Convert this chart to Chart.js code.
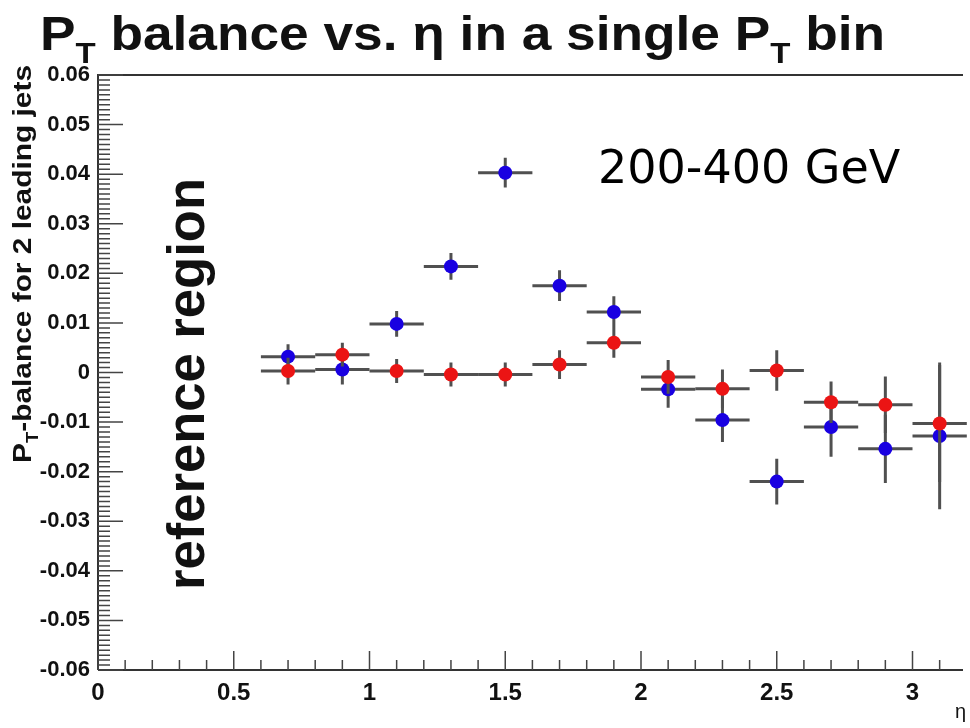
<!DOCTYPE html>
<html>
<head>
<meta charset="utf-8">
<script src="https://cdn.jsdelivr.net/npm/chart.js@4.4.0/dist/chart.umd.min.js"></script>
<style>
  body { margin: 0; background: #fff; }
  canvas { display: block; }
</style>
</head>
<body>
<canvas id="myChart" width="970" height="728"></canvas>
<script>
// eta bin centres (bins are 0.2 wide)
const etaBins = [0.7, 0.9, 1.1, 1.3, 1.5, 1.7, 1.9, 2.1, 2.3, 2.5, 2.7, 2.9, 3.1];
const binHalfWidth = 0.1;

const redValues = [0.0003, 0.0036, 0.0003, -0.0004, -0.0004, 0.0016, 0.0060, -0.0009, -0.0033, 0.0004, -0.0060, -0.0065, -0.0103];
const redErrors = [0.0027, 0.0024, 0.0024, 0.0024, 0.0024, 0.0029, 0.0030, 0.0034, 0.0039, 0.0041, 0.0042, 0.0057, 0.0118];

const blueValues = [0.0032, 0.0006, 0.0098, 0.0214, 0.0403, 0.0175, 0.0122, -0.0034, -0.0096, -0.0220, -0.0110, -0.0154, -0.0128];
const blueErrors = [0.0025, 0.0030, 0.0026, 0.0027, 0.0030, 0.0031, 0.0032, 0.0037, 0.0044, 0.0046, 0.0060, 0.0069, 0.0148];

const xTickLabels = ['0', '0.5', '1', '1.5', '2', '2.5', '3'];
const yTickLabels = ['-0.06', '-0.05', '-0.04', '-0.03', '-0.02', '-0.01', '0', '0.01', '0.02', '0.03', '0.04', '0.05', '0.06'];

const legendText = '200-400 GeV';
const sideText = 'reference region';

function toPoints(values, errors) {
    return etaBins.map((x, i) => ({ x: x, y: values[i], err: errors[i] }));
}

// draws pieces of text (some subscripted), squeezed/stretched to a target length
function drawRichText(ctx, parts, size, targetWidth) {
    let total = 0;
    for (const p of parts) {
        ctx.font = 'bold ' + (p.sub ? size * 0.62 : size) + 'px "Liberation Sans", Arial, sans-serif';
        p.w = ctx.measureText(p.t).width;
        total += p.w;
    }
    ctx.scale(targetWidth / total, 1);
    let x = 0;
    for (const p of parts) {
        ctx.font = 'bold ' + (p.sub ? size * 0.62 : size) + 'px "Liberation Sans", Arial, sans-serif';
        ctx.fillText(p.t, x, p.sub ? size * 0.28 : 0);
        x += p.w;
    }
}

const errorBars = {
    id: 'errorBars',
    beforeDatasetDraw(chart, args) {
        const ctx = chart.ctx;
        const xs = chart.scales.x, ys = chart.scales.y;
        const data = chart.data.datasets[args.index].data;
        ctx.save();
        ctx.strokeStyle = '#505050';
        ctx.lineWidth = 3;
        for (const d of data) {
            const px = xs.getPixelForValue(d.x);
            const py = ys.getPixelForValue(d.y);
            ctx.beginPath();
            ctx.moveTo(xs.getPixelForValue(d.x - binHalfWidth), py);
            ctx.lineTo(xs.getPixelForValue(d.x + binHalfWidth), py);
            ctx.moveTo(px, ys.getPixelForValue(d.y - d.err));
            ctx.lineTo(px, ys.getPixelForValue(d.y + d.err));
            ctx.stroke();
        }
        ctx.restore();
    }
};

// ROOT style frame: inward ticks, top line
const rootFrame = {
    id: 'rootFrame',
    afterDraw(chart) {
        const ctx = chart.ctx;
        const a = chart.chartArea;
        const xs = chart.scales.x, ys = chart.scales.y;
        ctx.save();
        ctx.strokeStyle = '#333';
        ctx.lineWidth = 2;
        ctx.beginPath();
        ctx.moveTo(a.left, a.bottom);
        ctx.lineTo(a.left, a.top);
        ctx.lineTo(a.right, a.top);
        ctx.moveTo(a.left, a.bottom);
        ctx.lineTo(a.right, a.bottom);
        ctx.stroke();

        ctx.strokeStyle = '#444';
        ctx.lineWidth = 1.5;
        ctx.beginPath();
        for (let i = -60; i <= 60; i++) {
            const py = ys.getPixelForValue(i / 1000);
            const len = i % 10 === 0 ? 25 : 12;
            ctx.moveTo(a.left, py);
            ctx.lineTo(a.left + len, py);
        }
        for (let i = 0; i <= 31; i++) {
            const px = xs.getPixelForValue(i / 10);
            const len = i % 5 === 0 ? 19 : 10;
            ctx.moveTo(px, a.bottom);
            ctx.lineTo(px, a.bottom - len);
        }
        ctx.stroke();

        ctx.fillStyle = '#111';
        ctx.textBaseline = 'alphabetic';
        ctx.textAlign = 'left';

        // title
        ctx.save();
        ctx.translate(40, 50);
        drawRichText(ctx, [{ t: 'P' }, { t: 'T', sub: true }, { t: ' balance vs. η in a single ' },
            { t: 'P' }, { t: 'T', sub: true }, { t: ' bin' }], 48, 845);
        ctx.restore();

        // y axis title
        ctx.save();
        ctx.translate(31, 463);
        ctx.rotate(-Math.PI / 2);
        drawRichText(ctx, [{ t: 'P' }, { t: 'T', sub: true }, { t: '-balance for 2 leading jets' }], 26, 398);
        ctx.restore();

        // big rotated label
        ctx.save();
        ctx.translate(204, 590);
        ctx.rotate(-Math.PI / 2);
        drawRichText(ctx, [{ t: sideText }], 51, 412);
        ctx.restore();

        // x axis title
        ctx.font = '20px "Liberation Sans", Arial, sans-serif';
        ctx.fillText('η', 955, 718);

        // legend text
        ctx.font = '46px "DejaVu Sans", sans-serif';
        ctx.fillStyle = '#000';
        ctx.fillText(legendText, 598, 183);
        ctx.restore();
    }
};

const ctx = document.getElementById('myChart').getContext('2d');
new Chart(ctx, {
    type: 'scatter',
    data: {
        datasets: [{
            label: 'red',
            data: toPoints(redValues, redErrors),
            backgroundColor: 'rgb(235, 20, 20)',
            borderColor: 'rgb(235, 20, 20)',
            pointRadius: 7,
            pointHoverRadius: 7,
            borderWidth: 0
        }, {
            label: 'blue',
            data: toPoints(blueValues, blueErrors),
            backgroundColor: 'rgb(25, 0, 225)',
            borderColor: 'rgb(25, 0, 225)',
            pointRadius: 7,
            pointHoverRadius: 7,
            borderWidth: 0
        }]
    },
    options: {
        responsive: false,
        animation: false,
        layout: { padding: { top: 75, right: 0, bottom: 0, left: 0 } },
        plugins: {
            legend: { display: false },
            tooltip: { enabled: false }
        },
        scales: {
            x: {
                type: 'linear',
                min: 0,
                max: 3.186,
                afterFit(scale) { scale.height = 58; },
                grid: { display: false, drawTicks: false },
                border: { display: false },
                ticks: {
                    stepSize: 0.5,
                    includeBounds: false,
                    maxRotation: 0,
                    padding: 9,
                    color: '#111',
                    font: { family: '"Liberation Sans", Arial, sans-serif', size: 24, weight: 'bold' },
                    callback: (v) => xTickLabels.find(l => Math.abs(parseFloat(l) - v) < 1e-6)
                }
            },
            y: {
                type: 'linear',
                min: -0.06,
                max: 0.06,
                afterFit(scale) { scale.width = 98; },
                grid: { display: false, drawTicks: false },
                border: { display: false },
                ticks: {
                    stepSize: 0.01,
                    padding: 8,
                    color: '#111',
                    font: { family: '"Liberation Sans", Arial, sans-serif', size: 22, weight: 'bold' },
                    callback: (v) => yTickLabels.find(l => Math.abs(parseFloat(l) - v) < 1e-6)
                }
            }
        }
    },
    plugins: [errorBars, rootFrame]
});
</script>
</body>
</html>
